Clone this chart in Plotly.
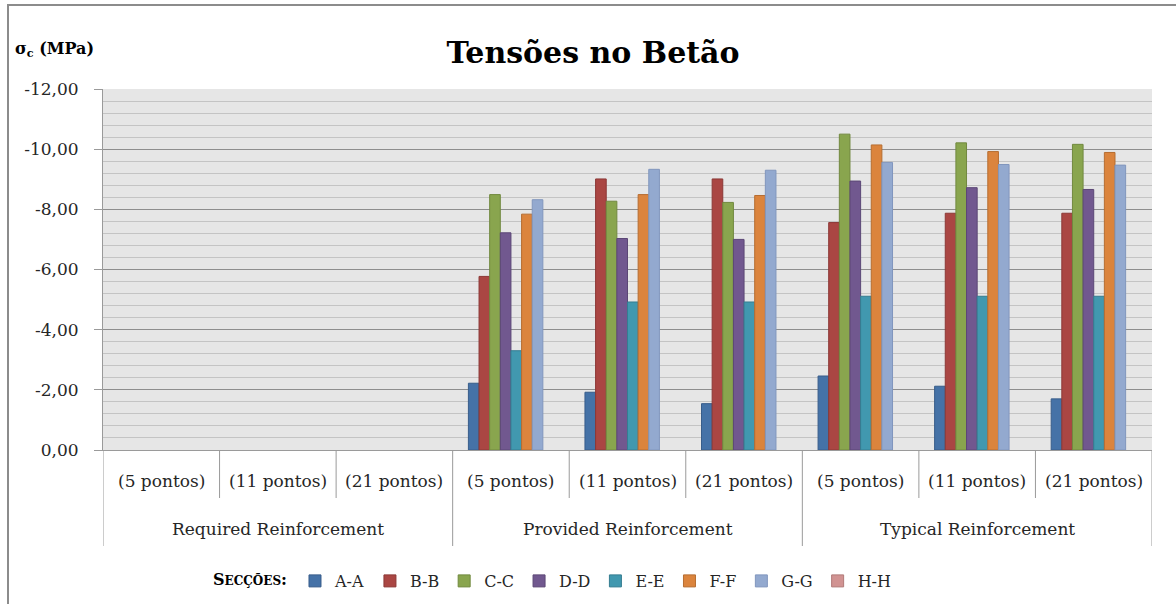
import plotly.graph_objects as go

# Reinforcement schemes (outer x level) and integration meshes (inner x level)
schemes = ["Required Reinforcement", "Provided Reinforcement", "Typical Reinforcement"]
meshes = ["(5 pontos)", "(11 pontos)", "(21 pontos)"]
sections = ["A-A", "B-B", "C-C", "D-D", "E-E", "F-F", "G-G", "H-H"]

# Concrete stresses sigma_c (MPa), one value per scheme/mesh case
sigma_AA = [None, None, None, -2.22, -1.92, -1.54, -2.46, -2.12, -1.70]
sigma_BB = [None, None, None, -5.77, -9.01, -9.01, -7.56, -7.87, -7.87]
sigma_CC = [None, None, None, -8.49, -8.27, -8.23, -10.50, -10.21, -10.16]
sigma_DD = [None, None, None, -7.22, -7.03, -7.00, -8.94, -8.72, -8.66]
sigma_EE = [None, None, None, -3.30, -4.92, -4.92, -5.11, -5.11, -5.11]
sigma_FF = [None, None, None, -7.84, -8.49, -8.46, -10.14, -9.92, -9.89]
sigma_GG = [None, None, None, -8.32, -9.33, -9.30, -9.56, -9.49, -9.47]
sigma_HH = [None, None, None, None, None, None, None, None, None]

y_ticks = [0, -2, -4, -6, -8, -10, -12]
y_tick_labels = ["0,00", "-2,00", "-4,00", "-6,00", "-8,00", "-10,00", "-12,00"]

fills = ["#4572A7", "#AA4643", "#89A54E", "#71588F", "#4198AF", "#DB843D", "#93A9CF", "#D19392"]
edges = ["#385D8A", "#8C3836", "#71893F", "#5C4776", "#357D91", "#B66D31", "#8196BD", "#B07A79"]

series = [sigma_AA, sigma_BB, sigma_CC, sigma_DD, sigma_EE, sigma_FF, sigma_GG, sigma_HH]

# one x slot per (scheme, mesh) case
cases = [(s, m) for s in schemes for m in meshes]
case_pos = list(range(len(cases)))

SERIF = "DejaVu Serif"
TXT = "#262626"
AXIS_GREY = "#9A9A9A"

fig = go.Figure()
for name, vals, fc, ec in zip(sections, series, fills, edges):
    fig.add_trace(go.Bar(
        x=case_pos, y=vals, name=name,
        marker=dict(color=fc, line=dict(color=ec, width=1)),
    ))

# plot-area geometry in px (used for paper-coordinate conversions)
W, H = 1176, 604
L, R, T, B = 103, 24, 89, 154
ph = H - T - B
pw = W - L - R


def py(px_y):
    return (H - B - px_y) / ph


def px(px_x):
    return (px_x - L) / pw


shapes = []
# inner separators between meshes
for i in range(1, len(cases)):
    if i % len(meshes) == 0:
        continue
    shapes.append(dict(type="line", xref="x", yref="paper", x0=i - 0.5, x1=i - 0.5,
                       y0=0, y1=py(498), line=dict(color=AXIS_GREY, width=1)))
# separators between reinforcement schemes (and the outer edges)
for g in range(len(schemes) + 1):
    xg = g * len(meshes) - 0.5
    shapes.append(dict(type="line", xref="x", yref="paper", x0=xg, x1=xg,
                       y0=0, y1=py(546), line=dict(color=AXIS_GREY, width=1)))
# chart frame (left and top edges fall inside the page)
shapes.append(dict(type="rect", xref="paper", yref="paper", x0=px(8), x1=px(1200),
                   y0=py(700), y1=py(5), line=dict(color="#8C8C8C", width=2),
                   fillcolor="rgba(0,0,0,0)"))

annotations = []
for i, (s, m) in enumerate(cases):
    annotations.append(dict(x=i, y=py(481), xref="x", yref="paper", text=m,
                            xanchor="center", yanchor="middle",
                            showarrow=False, font=dict(family=SERIF, size=17, color=TXT)))
for g, s in enumerate(schemes):
    annotations.append(dict(x=g * len(meshes) + 1, y=py(529), xref="x", yref="paper", text=s,
                            xanchor="center", yanchor="middle",
                            showarrow=False, font=dict(family=SERIF, size=17, color=TXT)))
annotations.append(dict(x=px(13), y=py(50), xref="paper", yref="paper",
                        xanchor="left", yanchor="middle",
                        text="<b>σ<sub>c</sub> (MPa)</b>", showarrow=False,
                        font=dict(family=SERIF, size=16, color="#000000")))

fig.update_layout(
    width=W, height=H,
    margin=dict(l=L, r=R, t=T, b=B, autoexpand=False),
    paper_bgcolor="#FFFFFF",
    plot_bgcolor="#E6E6E6",
    barmode="group",
    bargap=0.27,
    bargroupgap=0,
    title=dict(text="<b>Tensões no Betão</b>", x=593 / W, xanchor="center",
               y=1 - 52 / H, yanchor="middle",
               font=dict(family=SERIF, size=30, color="#000000")),
    xaxis=dict(range=[-0.5, len(cases) - 0.5], showticklabels=False, ticks="",
               showgrid=False, zeroline=False, showline=True, linecolor=AXIS_GREY,
               linewidth=1, fixedrange=True),
    yaxis=dict(range=[0, -12], tickvals=y_ticks, ticktext=y_tick_labels,
               ticks="outside", ticklen=8, tickcolor=AXIS_GREY,
               ticklabelstandoff=12,
               tickfont=dict(family=SERIF, size=17, color=TXT),
               showgrid=True, gridcolor="#8E8E8E", gridwidth=1,
               minor=dict(dtick=0.4, showgrid=True, gridcolor="#C4C4C4", gridwidth=1),
               zeroline=False, showline=True, linecolor=AXIS_GREY, linewidth=1),
    legend=dict(orientation="h", xref="container", yref="container",
                x=211 / W, xanchor="left", y=1 - 581 / H, yanchor="middle",
                font=dict(family=SERIF, size=16, color=TXT),
                title=dict(text="<b>S<span style='font-size:12px'>ECÇÕES</span>:</b>",
                           font=dict(family=SERIF, size=16, color="#000000")),
                traceorder="normal", itemclick=False),
    shapes=shapes,
    annotations=annotations,
    showlegend=True,
)

fig.write_html("out.html")
